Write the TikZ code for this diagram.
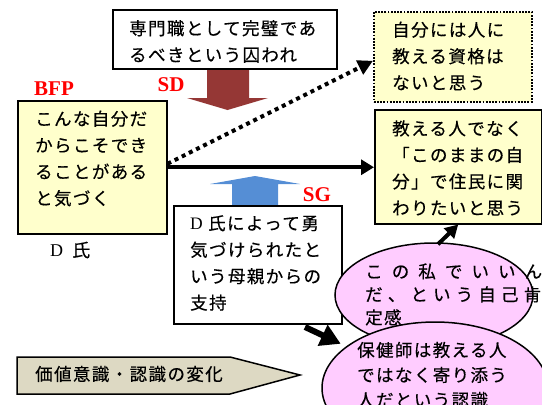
\documentclass[tikz,border=0pt]{standalone}
\usepackage{fontspec}
\setmainfont{Liberation Serif}
\newfontfamily\jp[LetterSpace=8,FakeBold=0.4]{Noto Sans CJK JP}
\newfontfamily\jpn[FakeBold=0.4]{Noto Sans CJK JP}
\usetikzlibrary{arrows.meta,shapes.geometric}
\definecolor{boxyellow}{HTML}{FFFFCC}
\definecolor{sdred}{HTML}{953735}
\definecolor{sgblue}{HTML}{558ED5}
\definecolor{pinkfill}{HTML}{FFCCFF}
\definecolor{tanfill}{HTML}{DDD9C3}
\begin{document}
\begin{tikzpicture}[x=1pt,y=-1pt,
  box/.style={draw=black,line width=1.5pt,anchor=north west,inner sep=0pt},
  jtext/.style={anchor=west,align=left,inner sep=0pt,font=\jp\fontsize{17.5}{26.5}\selectfont},
  etext/.style={anchor=west,align=left,inner sep=0pt,font=\jp\fontsize{17.5}{23}\selectfont},
  lbl/.style={text=red,font=\bfseries\fontsize{21}{21}\selectfont,inner sep=0pt},
  oval/.style={ellipse,draw=black,line width=1.5pt,fill=pinkfill,inner sep=0pt},
  flowarrow/.style={line width=4pt,-{Triangle[length=13pt,width=15pt]}},
  dotarrow/.style={line width=4pt,dash pattern=on 4pt off 4pt,-{Triangle[length=15pt,width=15pt]}},
  bigarrow/.style={line width=6pt,-{Triangle[length=20pt,width=22pt]}}]
\useasboundingbox (0,0) rectangle (542,405);

% block arrows
\fill[sdred] (207,68) -- (249,68) -- (249,98) -- (268,98) -- (227.5,110) -- (187,98) -- (207,98) -- cycle;
\fill[sgblue] (232,206) -- (278,206) -- (278,184) -- (300,184) -- (255,176) -- (210,184) -- (232,184) -- cycle;

% boxes
\node[box,fill=white,minimum width=224pt,minimum height=59pt] (top) at (112,9) {};
\node[box,fill=boxyellow,line width=1.6pt,dash pattern=on 1.8pt off 1.4pt,minimum width=158pt,minimum height=90pt] (nohave) at (373,11) {};
\node[box,fill=boxyellow,minimum width=167pt,minimum height=114pt] (want) at (374,109) {};
\node[box,fill=boxyellow,minimum width=149pt,minimum height=133pt] (bfp) at (17,100) {};
\node[box,fill=white,minimum width=168pt,minimum height=118pt] (sgbox) at (173,205) {};

% texts in boxes
\node[jtext] (toptext) at (129,41.5) {専門職として完璧であ\\るべきという囚われ};
\node[jtext] (nohavetext) at (392,56) {自分には人に\\教える資格は\\ないと思う};
\node[jtext] (wanttext) at (392,168) {教える人でなく\\「このままの自\\分」で住民に関\\わりたいと思う};
\node[jtext] (bfptext) at (35,158.5) {こんな自分だ\\からこそでき\\ることがある\\と気づく};
\node[jtext] (sgtext) at (190,263) {{\rmfamily D} 氏によって勇\\気づけられたと\\いう母親からの\\支持};

% labels
\node[lbl] (bfplbl) at (54,89) {BFP};
\node[lbl] (sdlbl) at (171,84.5) {SD};
\node[lbl] (sglbl) at (317,195) {SG};
\node[anchor=west,inner sep=0pt,font=\fontsize{18}{18}\selectfont] (dname) at (50,250) {D\hspace{9pt}{\jpn 氏}};

% connectors
\draw[dotarrow] ([yshift=3.5pt]bfp.east) -- ([yshift=-4pt]nohave.west);
\draw[flowarrow] (bfp.east) -- (bfp.east -| want.west);

% ellipses
\node[oval,minimum width=198pt,minimum height=104pt] (selfok) at (434,295) {};
\node[etext] (selfoktext) at (365,294.5) {\makebox[177pt][l]{\jpn こ\hfill の\hfill 私\hfill で\hfill い\hfill い\hfill ん}\\\makebox[176pt][l]{\jpn だ\hfill 、\hfill と\hfill い\hfill う\hfill 自\hfill 己\hfill 肯}\\定感};
\node[oval,minimum width=226pt,minimum height=132pt] (recog) at (435,388) {};
\node[etext,font=\jp\fontsize{17.5}{25}\selectfont] (recogtext) at (357,375) {保健師は教える人\\ではなく寄り添う\\人だという認識};

\draw[flowarrow,-{Triangle[length=13pt,width=14pt]}] ([xshift=4pt,yshift=-2pt]selfok.north) -- (want.south);
\coordinate (sgtail) at (305,327);
\draw[bigarrow,shorten >=6pt] (sgtail) -- (recog);

% value change pentagon
\draw[fill=tanfill,line width=1.5pt] (17,357) -- (230,357) -- (300,375) -- (230,394) -- (17,394) -- cycle;
\node[anchor=west,inner sep=0pt,font=\jp\fontsize{17.5}{20}\selectfont] (change) at (35,374) {価値意識・認識の変化};
\end{tikzpicture}
\end{document}
